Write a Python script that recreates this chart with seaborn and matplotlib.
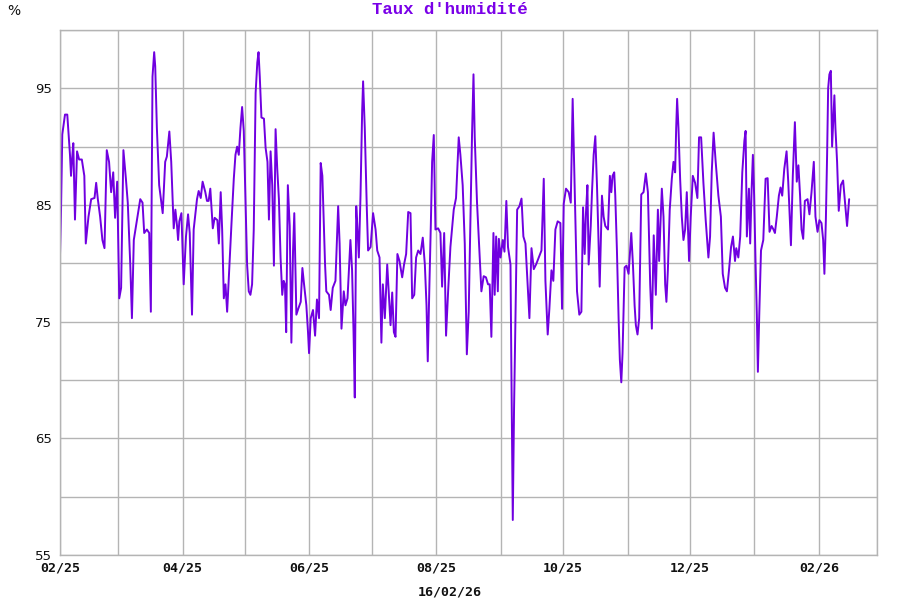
import matplotlib
matplotlib.use("Agg")
import matplotlib.pyplot as plt
import matplotlib.dates as mdates
import seaborn as sns
import pandas as pd

# ---- data ----
start_date = "2025-02-01"
# days elapsed since start_date for each reading
days = [
    0, 0.5, 1.1, 2.4, 3.5, 4.8, 5.3, 5.9, 6.4, 7.2, 8.2, 9.2, 10.5, 11.7, 12.4, 13.7, 15.0, 16.6, 17.4, 18.2,
    19.3, 20.4, 21.4, 22.5, 23.6, 24.6, 25.6, 26.5, 27.5, 28.5, 29.4, 30.5, 31.7, 32.6, 33.8, 34.6, 35.5, 37.0,
    38.6, 39.7, 40.5, 41.8, 42.9, 43.7, 44.5, 45.3, 45.8, 46.6, 47.7, 49.4, 50.6, 51.4, 52.6, 53.5, 54.7, 55.5,
    56.3, 56.8, 57.4, 58.4, 59.5, 60.6, 61.6, 62.4, 63.5, 64.3, 65.9, 66.7, 67.7, 68.6, 69.9, 70.7, 71.5, 72.3,
    73.5, 74.4, 75.7, 76.4, 77.3, 78.0, 78.8, 79.6, 80.4, 81.2, 82.5, 83.6, 84.4, 85.2, 86.0, 86.8, 87.6, 88.4,
    89.2, 90.0, 90.8, 91.6, 92.4, 93.2, 94.1, 94.9, 95.5, 96.1, 96.9, 98.1, 98.9, 99.8, 100.5, 101.3, 102.1,
    102.9, 103.7, 104.5, 105.3, 106.1, 106.9, 107.6, 108.2, 108.8, 109.6, 110.5, 111.3, 112.1, 112.7, 113.7,
    114.6, 115.8, 116.6, 117.4, 118.5, 119.3, 119.8, 120.6, 121.7, 122.7, 123.6, 124.6, 125.4, 126.2, 127.5,
    128.1, 129.4, 130.2,
    131.2, 132.5, 133.8, 134.5, 135.4, 136.5, 137.3, 138.3, 139.7, 140.5, 141.2, 141.8, 142.5, 143.1, 143.75,
    144.55, 145.35, 145.8, 146.6, 147.6, 148.2, 149.4, 150.6, 151.8, 152.6, 153.7, 154.6, 155.3, 156.25, 157.4,
    158.2, 159.0, 159.8, 160.6, 161.4, 162.3, 163.3, 164.6, 165.5, 166.5, 167.5, 168.6, 169.4, 170.4, 171.3,
    172.3, 173.4, 174.5, 175.5, 176.3, 176.9, 177.7, 178.4, 179.0, 179.8, 180.6, 181.9, 183.0, 183.8, 184.8,
    185.7, 186.7, 187.8, 189.4, 190.5, 191.8, 192.6, 193.7, 194.7, 195.7, 196.6, 197.6, 198.2, 198.9, 199.5,
    200.6, 201.75, 202.7, 203.8, 204.9, 205.9, 206.7, 207.5, 208.5, 209.1, 209.8, 210.6, 211.1, 211.9, 213.0,
    213.8, 214.7, 215.5, 216.7, 217.1, 217.8, 218.4, 219.1, 219.9, 221.0, 222.0, 222.9, 223.9, 225.0, 225.8,
    226.8, 227.9, 229.0, 230.3, 231.6, 232.7, 233.5, 234.6, 235.4, 236.4, 237.3, 238.3, 239.4, 240.7, 241.5,
    242.3, 243.4, 244.7, 245.7, 246.6, 247.6, 248.7, 249.8, 250.8, 251.6, 252.4, 253.0, 253.7, 254.3, 255.3,
    255.9, 256.7, 257.5,
    258.3, 258.9, 259.6, 260.7, 261.5, 262.3, 263.6, 264.5, 265.2, 265.8, 266.6, 267.1, 267.9, 268.7, 269.3,
    270.0, 270.6, 271.6, 272.5, 273.5, 274.8, 275.6, 276.4, 277.0, 277.8, 278.6, 279.6, 280.7, 281.8, 282.8,
    283.9, 284.7, 285.6, 286.6, 287.6, 288.2, 288.8, 289.5, 290.3, 291.1, 291.7, 292.4, 293.3, 294.3, 295.1,
    295.9, 296.4, 296.85, 297.5, 298.3, 299.1, 299.9, 300.7, 301.5, 302.6, 303.4, 304.4, 305.5, 306.6, 307.4,
    308.4, 309.5, 310.6, 311.9, 312.7, 313.5, 314.4, 315.4, 316.7, 317.9, 318.8, 319.9, 320.8, 321.8, 322.8,
    323.7, 324.7, 325.3, 326.3, 327.2, 328.2, 329.2, 329.8, 330.4, 331.4, 332.0, 332.7, 333.3, 333.9, 334.6,
    335.2, 335.7, 336.4, 337.2, 338.3, 339.4, 340.4, 341.3, 342.3, 343.2, 343.9, 344.8, 345.8, 346.6, 347.4,
    348.4, 349.5, 350.3, 351.6, 352.5, 353.5, 354.4, 355.2, 356.0, 356.7, 357.5, 358.3, 359.6, 360.5, 361.5,
    362.6, 363.4, 364.4, 365.3, 366.3, 367.1, 367.7, 368.4, 369.0, 369.5, 370.1, 370.8, 371.4, 372.0, 372.5,
    373.0, 373.8, 374.6, 375.6, 376.7, 377.5, 378.6, 379.6,
]
humidity = [
    80.7, 84.6, 91.05, 92.75, 92.75, 89.3, 87.5, 89.15, 90.3, 83.75, 89.6, 88.9, 88.9, 87.5, 81.7, 84.0, 85.5,
    85.6, 86.9, 85.5, 84.0, 82.0, 81.3, 89.7, 88.7, 86.1, 87.8, 83.9, 87.0, 77.0, 77.9, 89.7, 87.25, 85.2, 79.9,
    75.3, 82.0, 83.7, 85.5, 85.2, 82.6, 82.9, 82.6, 75.85, 96.0, 98.1, 96.9, 91.6, 86.7, 84.3, 88.7, 89.15,
    91.3, 88.7, 83.0, 84.6, 83.2, 82.0, 83.6, 84.3, 78.2, 82.3, 84.2, 82.6, 75.6, 82.9, 85.5, 86.2, 85.6, 87.0,
    86.1, 85.35, 85.35, 86.4, 83.0, 83.9, 83.7, 81.7, 86.1, 82.9, 77.0, 78.2, 75.85, 78.8, 83.45, 87.25, 89.3,
    90.0, 89.3, 91.6, 93.4, 91.35, 85.8, 79.9, 77.6, 77.3, 78.2, 82.9, 94.6, 97.2, 98.1, 96.0, 92.5, 92.4, 89.9,
    88.7, 83.75, 89.6, 86.7, 79.8, 91.5, 88.1, 85.5, 80.5, 77.3, 78.5, 78.2, 74.1, 86.7, 83.2, 73.2, 81.1, 84.3,
    75.6, 76.1, 76.7, 79.6, 78.2, 76.4, 74.1, 72.3, 75.3, 76.0, 73.8, 76.9, 75.3, 88.6, 87.5, 79.9, 77.6, 77.3,
    76.0,
    77.9, 78.5, 84.9, 81.7, 74.4, 77.6, 76.4, 77.0, 82.0, 79.4, 74.1, 68.5, 84.9, 82.9, 80.5, 85.8, 93.1, 95.6,
    91.6, 84.6, 81.1, 81.4, 84.3, 82.9, 81.1, 80.5, 73.2, 78.2, 75.3, 79.9, 77.3, 74.7, 77.5, 74.1, 73.7, 80.8,
    80.2, 78.8, 79.9, 80.8, 84.4, 84.3, 77.0, 77.3, 80.5, 81.1, 80.8, 82.2, 79.9, 76.4, 71.6, 78.2, 83.45, 88.7,
    91.0, 82.9, 83.0, 82.6, 78.0, 82.6, 73.8, 77.6, 81.4, 84.6, 85.6, 90.8, 89.3, 86.7, 81.7, 72.2, 75.85, 85.2,
    91.05, 96.2, 90.8, 85.2, 81.1, 77.6, 78.9, 78.8, 78.2, 78.2, 73.7, 82.6, 77.3, 82.3, 77.6, 82.1, 80.5, 82.0,
    81.0, 85.35, 81.4, 79.9, 71.5, 58.0, 67.4, 75.6, 84.6, 84.9, 85.55, 82.3, 81.7, 77.9, 75.3, 81.3, 79.5,
    79.9, 80.5, 81.1, 87.25, 78.5, 73.9, 76.1, 79.4, 78.5, 82.9, 83.6, 83.45, 76.1, 85.1, 86.4, 86.1, 85.2,
    94.1, 86.4, 77.6, 75.6, 75.85, 84.8, 80.8, 84.3, 86.7, 79.9, 83.2, 86.1, 89.3, 90.9,
    86.7, 82.9, 78.0, 85.8, 84.0, 83.2, 82.9, 87.5, 86.1, 87.5, 87.8, 85.8, 81.1, 75.3, 71.75, 69.8, 72.3,
    79.65, 79.8, 79.1, 82.6, 79.9, 76.4, 74.7, 73.9, 75.3, 85.9, 86.1, 87.7, 86.1, 78.2, 74.4, 82.4, 77.3,
    84.6, 80.2, 83.2, 86.4, 84.0, 78.2, 76.7, 79.4, 84.6, 87.25, 88.7, 87.8, 91.6, 94.1, 91.6, 87.25, 84.0,
    82.0, 82.9, 86.1, 80.2, 84.0, 87.5, 86.9, 85.6, 90.8, 90.8, 86.9, 83.7, 80.5, 82.3, 87.8, 91.2, 88.7, 85.8,
    84.0, 79.1, 77.9, 77.6, 79.4, 81.4, 82.3, 80.2, 81.3, 80.5, 82.3, 87.8, 90.5, 91.35, 82.3, 86.4, 81.7,
    86.4, 89.3, 85.8, 79.9, 75.6, 70.7, 75.85, 81.1, 82.0, 87.25, 87.3, 82.7, 83.2, 82.9, 82.6, 84.0, 85.8,
    86.5, 85.8, 88.1, 89.6, 87.0, 81.55, 87.5, 92.1, 87.0, 88.4, 85.8, 82.9, 82.1, 85.35, 85.5, 84.2, 86.1,
    88.7, 84.0, 82.7, 83.7, 83.45, 82.0, 79.1, 83.7, 89.3, 95.0, 96.2, 96.5, 90.0, 92.5, 94.4, 91.6, 88.7,
    84.5, 86.7, 87.1, 85.5, 83.2, 85.5,
]
title_text = "Taux d'humidité"
unit_text = "%"
date_text = "16/02/26"
x_start, x_end = "2025-02-01", "2026-03-01"
y_min, y_max = 55, 100
y_labels = [55, 65, 75, 85, 95]

# ---- build table ----
df = pd.DataFrame({
    "date": pd.Timestamp(start_date) + pd.to_timedelta(days, unit="D"),
    "humidity": humidity,
})

sns.set_theme(style="white")
plt.rcParams["font.family"] = ["DejaVu Sans"]

line_color = "#7000e0"
grid_color = "#b4b4b4"

fig = plt.figure(figsize=(9, 6), dpi=100)
ax = fig.add_axes([60 / 900, 45 / 600, 817 / 900, 525 / 600])

sns.lineplot(data=df, x="date", y="humidity", ax=ax, color=line_color,
             linewidth=1.4, estimator=None, sort=False)

ax.set_xlim(pd.Timestamp(x_start), pd.Timestamp(x_end))
ax.set_ylim(y_min, y_max)

# grid: monthly vertical, every 5 % horizontal
ax.xaxis.set_major_locator(mdates.MonthLocator(bymonth=[2, 4, 6, 8, 10, 12]))
ax.xaxis.set_minor_locator(mdates.MonthLocator())
ax.xaxis.set_major_formatter(mdates.DateFormatter("%m/%y"))
ax.set_yticks(y_labels)
ax.set_yticks(range(y_min, y_max + 1, 5), minor=True)
ax.grid(True, which="both", color=grid_color, linewidth=1.0)
ax.set_axisbelow(True)

ax.tick_params(axis="both", which="both", length=0)
ax.tick_params(axis="x", pad=5)
ax.tick_params(axis="y", pad=6)
for lab in ax.get_xticklabels():
    lab.set_fontfamily("DejaVu Sans Mono")
    lab.set_fontweight("bold")
    lab.set_fontsize(9.5)
    lab.set_color("#111111")
for lab in ax.get_yticklabels():
    lab.set_fontsize(9.5)
    lab.set_color("#111111")

for sp in ax.spines.values():
    sp.set_color(grid_color)
    sp.set_linewidth(1.0)

ax.set_xlabel("")
ax.set_ylabel("")

fig.text(450 / 900, 1 - 10 / 600, title_text, ha="center", va="center",
         fontfamily="Liberation Mono", fontweight="bold", fontsize=12.5, color="#7a00e8")
fig.text(14 / 900, 1 - 11 / 600, unit_text, ha="center", va="center",
         fontsize=10, color="#111111")
fig.text(450 / 900, 8 / 600, date_text, ha="center", va="center",
         fontfamily="DejaVu Sans Mono", fontweight="bold", fontsize=9.5, color="#111111")

fig.savefig("out.png", dpi=100, facecolor="white")
